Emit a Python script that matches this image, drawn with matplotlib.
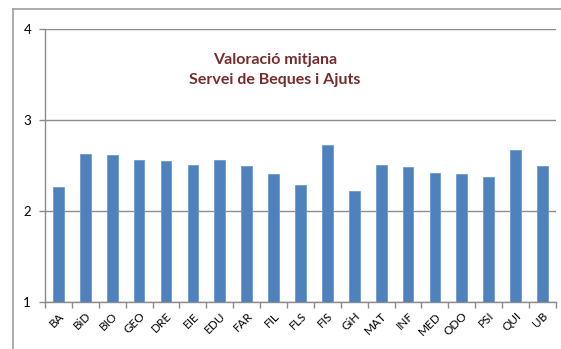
import matplotlib.pyplot as plt
import numpy as np

labels = ['BA', 'BiD', 'BIO', 'GEO', 'DRE', 'EIE', 'EDU', 'FAR', 'FIL', 'FLS',
          'FIS', 'GiH', 'MAT', 'INF', 'MED', 'ODO', 'PSI', 'QUI', 'UB']
values = [2.26, 2.63, 2.62, 2.56, 2.55, 2.51, 2.56, 2.49, 2.41, 2.29,
          2.73, 2.22, 2.51, 2.48, 2.42, 2.41, 2.37, 2.67, 2.49]
yticks = [1, 2, 3, 4]

plt.rcParams['font.family'] = ['Lato', 'DejaVu Sans']

fig = plt.figure(figsize=(5.61, 3.49), dpi=100)
ax = fig.add_axes([0.0802, 0.1347, 0.9108, 0.7823])

# outer chart frame
fig.add_artist(plt.Line2D([13/561, 13/561], [0, 1 - 9/349], color='#a0a0a0', lw=1.2))
fig.add_artist(plt.Line2D([13/561, 1], [1 - 9/349, 1 - 9/349], color='#a0a0a0', lw=1.2))

x = np.arange(len(labels))
ax.bar(x, values, width=0.4, color='#4f81bd', edgecolor='#6f9bd0', linewidth=0.6,
       bottom=0, zorder=3)
ax.set_ylim(1, 4)
ax.set_xlim(-0.5, len(labels) - 0.5)
ax.set_yticks(yticks)
ax.yaxis.grid(True, color='#8c8c8c', lw=1.0, zorder=0)
ax.set_axisbelow(True)

ax.set_xticks(np.arange(len(labels) + 1) - 0.5, minor=False)
ax.set_xticklabels([])
ax.set_xticks(x, minor=True)
ax.set_xticklabels(labels, minor=True, rotation=45, ha='right', va='top',
                   rotation_mode='anchor', fontsize=8.5)
ax.tick_params(axis='x', which='minor', length=0, pad=6)
ax.tick_params(axis='x', which='major', length=4, color='#8c8c8c', width=1)
ax.tick_params(axis='y', length=4, color='#8c8c8c', width=1, labelsize=9.5, pad=6)

for s in ['top', 'right']:
    ax.spines[s].set_visible(False)
for s in ['left', 'bottom']:
    ax.spines[s].set_color('#8c8c8c')
    ax.spines[s].set_linewidth(1.0)

ax.text(0.45, 0.85, 'Valoració mitjana\nServei de Beques i Ajuts', transform=ax.transAxes,
        ha='center', va='center', fontsize=11.5, fontweight='bold', color='#772c2c',
        linespacing=1.5)

fig.savefig('out.png', dpi=100)
